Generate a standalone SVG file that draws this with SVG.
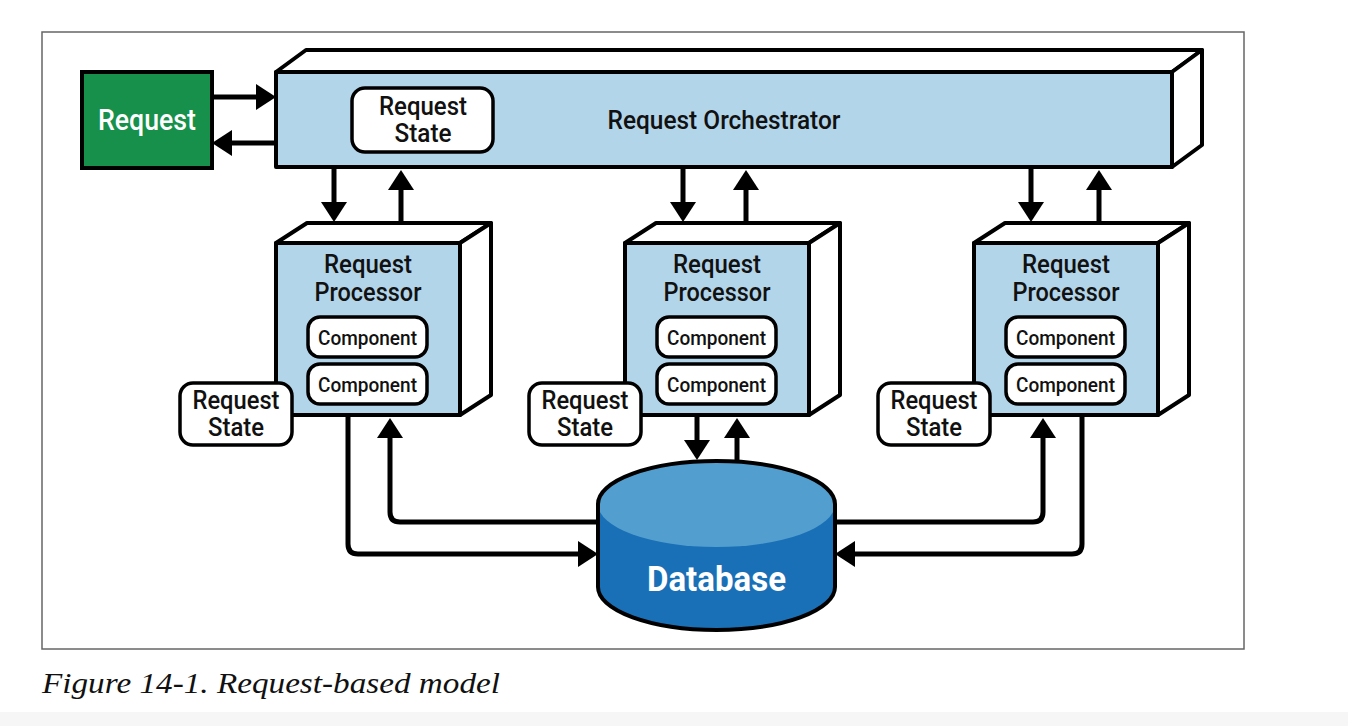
<svg xmlns="http://www.w3.org/2000/svg" width="1348" height="726" viewBox="0 0 1348 726">
<defs>
<style>
.box{fill:#b3d5ea;stroke:#000;stroke-width:4;stroke-linejoin:round}
.side{fill:#fff;stroke:#000;stroke-width:4;stroke-linejoin:round}
.pill{fill:#fff;stroke:#000;stroke-width:3.5}
.lbl{font-family:Roboto,"Liberation Sans",Arial,sans-serif;font-weight:500;fill:#111;text-anchor:middle}
.wire{fill:none;stroke:#000;stroke-width:5}
</style>
<marker id="ah" viewBox="0 0 20 26" refX="10" refY="13" markerWidth="20" markerHeight="26" markerUnits="userSpaceOnUse" orient="auto">
<path d="M0,0 L20,13 L0,26 z" fill="#000"/>
</marker>
</defs>
<rect x="0" y="0" width="1348" height="726" fill="#fff"/>
<rect x="0" y="712" width="1348" height="14" fill="#f6f6f6"/>
<rect x="42" y="32" width="1202" height="617" fill="#fff" stroke="#666" stroke-width="1.5"/>

<g id="connectors">
<line class="wire" x1="212" y1="97" x2="266" y2="97" marker-end="url(#ah)"/>
<line class="wire" x1="276" y1="143" x2="222" y2="143" marker-end="url(#ah)"/>
<line class="wire" x1="334" y1="167" x2="334" y2="212" marker-end="url(#ah)"/>
<line class="wire" x1="401" y1="223" x2="401" y2="180" marker-end="url(#ah)"/>
<line class="wire" x1="683" y1="167" x2="683" y2="212" marker-end="url(#ah)"/>
<line class="wire" x1="746" y1="223" x2="746" y2="180" marker-end="url(#ah)"/>
<line class="wire" x1="1031" y1="167" x2="1031" y2="212" marker-end="url(#ah)"/>
<line class="wire" x1="1099" y1="223" x2="1099" y2="180" marker-end="url(#ah)"/>
<line class="wire" x1="697" y1="415" x2="697" y2="450" marker-end="url(#ah)"/>
<line class="wire" x1="737" y1="462" x2="737" y2="428" marker-end="url(#ah)"/>
<path class="wire" d="M348,415 V544 Q348,554 358,554 H588" marker-end="url(#ah)"/>
<path class="wire" d="M600,522 H400 Q390,522 390,512 V428" marker-end="url(#ah)"/>
<path class="wire" d="M833,522 H1033 Q1043,522 1043,512 V428" marker-end="url(#ah)"/>
<path class="wire" d="M1082,415 V544 Q1082,554 1072,554 H845" marker-end="url(#ah)"/>
</g>

<g id="request">
<rect x="82" y="72" width="130" height="96" fill="#16904a" stroke="#000" stroke-width="4"/>
<text class="lbl" x="147" y="130" font-size="29" style="fill:#fff" textLength="98" lengthAdjust="spacingAndGlyphs">Request</text>
</g>

<g id="orchestrator">
<path class="side" d="M276,72 L306,50 H1202 L1172,72 Z"/>
<path class="side" d="M1172,72 L1202,50 V145 L1172,167 Z"/>
<rect class="box" x="276" y="72" width="896" height="95"/>
<text class="lbl" x="724" y="129" font-size="25" textLength="233" lengthAdjust="spacingAndGlyphs">Request Orchestrator</text>
</g>

<g id="orch-state">
<rect class="pill" x="352" y="88" width="141" height="64" rx="13"/>
<text class="lbl" x="423" y="115" font-size="25" textLength="88" lengthAdjust="spacingAndGlyphs">Request</text>
<text class="lbl" x="423" y="142" font-size="25" textLength="57" lengthAdjust="spacingAndGlyphs">State</text>
</g>

<g id="processor1">
<path class="side" d="M276,243 L307,223 H491 L460,243 Z"/>
<path class="side" d="M460,243 L491,223 V395 L460,415 Z"/>
<rect class="box" x="276" y="243" width="184" height="172"/>
<text class="lbl" x="368" y="273" font-size="25" textLength="88" lengthAdjust="spacingAndGlyphs">Request</text>
<text class="lbl" x="368" y="301" font-size="25" textLength="107" lengthAdjust="spacingAndGlyphs">Processor</text>
<rect class="pill" x="308" y="317" width="119" height="40" rx="12"/>
<text class="lbl" x="367.5" y="345" font-size="20" textLength="99" lengthAdjust="spacingAndGlyphs">Component</text>
<rect class="pill" x="308" y="364" width="119" height="40" rx="12"/>
<text class="lbl" x="367.5" y="392" font-size="20" textLength="99" lengthAdjust="spacingAndGlyphs">Component</text>
</g>
<g id="state1">
<rect class="pill" x="180" y="383" width="112" height="62" rx="13"/>
<text class="lbl" x="236" y="409" font-size="25" textLength="87" lengthAdjust="spacingAndGlyphs">Request</text>
<text class="lbl" x="236" y="436" font-size="25" textLength="56" lengthAdjust="spacingAndGlyphs">State</text>
</g>

<g id="processor2" transform="translate(349,0)">
<path class="side" d="M276,243 L307,223 H491 L460,243 Z"/>
<path class="side" d="M460,243 L491,223 V395 L460,415 Z"/>
<rect class="box" x="276" y="243" width="184" height="172"/>
<text class="lbl" x="368" y="273" font-size="25" textLength="88" lengthAdjust="spacingAndGlyphs">Request</text>
<text class="lbl" x="368" y="301" font-size="25" textLength="107" lengthAdjust="spacingAndGlyphs">Processor</text>
<rect class="pill" x="308" y="317" width="119" height="40" rx="12"/>
<text class="lbl" x="367.5" y="345" font-size="20" textLength="99" lengthAdjust="spacingAndGlyphs">Component</text>
<rect class="pill" x="308" y="364" width="119" height="40" rx="12"/>
<text class="lbl" x="367.5" y="392" font-size="20" textLength="99" lengthAdjust="spacingAndGlyphs">Component</text>
</g>
<g id="state2" transform="translate(349,0)">
<rect class="pill" x="180" y="383" width="112" height="62" rx="13"/>
<text class="lbl" x="236" y="409" font-size="25" textLength="87" lengthAdjust="spacingAndGlyphs">Request</text>
<text class="lbl" x="236" y="436" font-size="25" textLength="56" lengthAdjust="spacingAndGlyphs">State</text>
</g>

<g id="processor3" transform="translate(698,0)">
<path class="side" d="M276,243 L307,223 H491 L460,243 Z"/>
<path class="side" d="M460,243 L491,223 V395 L460,415 Z"/>
<rect class="box" x="276" y="243" width="184" height="172"/>
<text class="lbl" x="368" y="273" font-size="25" textLength="88" lengthAdjust="spacingAndGlyphs">Request</text>
<text class="lbl" x="368" y="301" font-size="25" textLength="107" lengthAdjust="spacingAndGlyphs">Processor</text>
<rect class="pill" x="308" y="317" width="119" height="40" rx="12"/>
<text class="lbl" x="367.5" y="345" font-size="20" textLength="99" lengthAdjust="spacingAndGlyphs">Component</text>
<rect class="pill" x="308" y="364" width="119" height="40" rx="12"/>
<text class="lbl" x="367.5" y="392" font-size="20" textLength="99" lengthAdjust="spacingAndGlyphs">Component</text>
</g>
<g id="state3" transform="translate(698,0)">
<rect class="pill" x="180" y="383" width="112" height="62" rx="13"/>
<text class="lbl" x="236" y="409" font-size="25" textLength="87" lengthAdjust="spacingAndGlyphs">Request</text>
<text class="lbl" x="236" y="436" font-size="25" textLength="56" lengthAdjust="spacingAndGlyphs">State</text>
</g>

<g id="database">
<path d="M598,504 V587 A118.5,43 0 0 0 835,587 V504 A118.5,43 0 0 0 598,504 Z" fill="#1a70b6"/>
<ellipse cx="716.5" cy="504" rx="118.5" ry="43" fill="#529fcf"/>
<path d="M598,504 V587 A118.5,43 0 0 0 835,587 V504 A118.5,43 0 0 0 598,504 Z" fill="none" stroke="#000" stroke-width="4"/>
<text x="716.5" y="591" font-family="Roboto,'Liberation Sans',Arial,sans-serif" font-weight="bold" font-size="35" fill="#fff" text-anchor="middle" textLength="139" lengthAdjust="spacingAndGlyphs">Database</text>
</g>

<text x="42" y="693" font-family="'Liberation Serif','Times New Roman',serif" font-style="italic" font-size="30" fill="#111" textLength="458" lengthAdjust="spacingAndGlyphs">Figure 14-1. Request-based model</text>
</svg>
